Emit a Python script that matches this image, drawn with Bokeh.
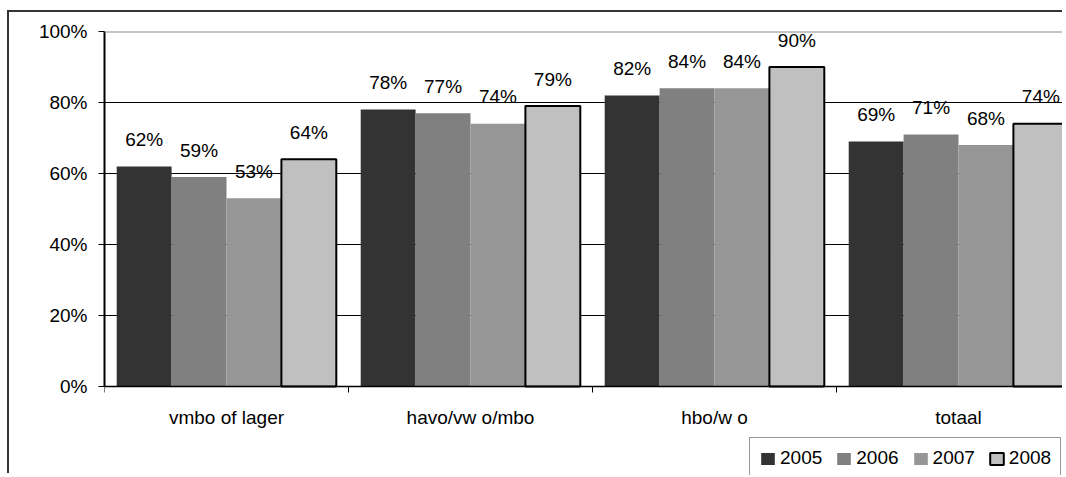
import math
from bokeh.plotting import figure
from bokeh.models import FixedTicker, PrintfTickFormatter, Span, Legend, LegendItem, ColumnDataSource
from bokeh.core.properties import value
from bokeh.embed import file_html
from bokeh.resources import INLINE

categories = ["vmbo of lager", "havo/vw o/mbo", "hbo/w o", "totaal"]
years = ["2005", "2006", "2007", "2008"]
v2005 = [62, 78, 82, 69]
v2006 = [59, 77, 84, 71]
v2007 = [53, 74, 84, 68]
v2008 = [64, 79, 90, 74]
y_ticks = [0, 20, 40, 60, 80, 100]

series = [v2005, v2006, v2007, v2008]
fills = ["#333333", "#808080", "#969696", "#c0c0c0"]
outlines = [None, None, None, "black"]
FONT = "Liberation Sans"
BAR_W = 0.225

CW, CH = 1055, 463          # canvas size
LEFT, TOP = 95, 19          # frame offsets inside canvas
PX_PER_CAT, PX_PER_PCT = 244, 3.55
x_end = -0.5 + (CW - LEFT) / PX_PER_CAT
y_start = 100 - (CH - TOP) / PX_PER_PCT

p = figure(width=CW, height=CH, output_backend="svg", toolbar_location=None,
           x_range=(-0.5, x_end), y_range=(y_start, 100), x_axis_location=None,
           min_border_left=LEFT, min_border_right=0, min_border_top=TOP, min_border_bottom=0)
p.styles = {"border-top": "2px solid #333333", "border-left": "2px solid #333333",
            "margin-left": "7px", "margin-top": "10px"}
p.outline_line_color = None
p.background_fill_color = "white"
p.border_fill_color = "white"

p.xgrid.visible = False
p.ygrid.ticker = FixedTicker(ticks=[20, 40, 60, 80])
p.ygrid.grid_line_color = "black"
p.ygrid.grid_line_width = 1
p.add_layout(Span(location=100, dimension="width", line_color="#8c8c8c", line_width=2))

renderers = []
for j, vals in enumerate(series):
    xs = [i + (j - 1.5) * BAR_W for i in range(len(categories))]
    src = ColumnDataSource(dict(x=xs, top=vals, lbl=[f"{v}%" for v in vals]))
    r = p.vbar(x="x", top="top", bottom=0, width=BAR_W, source=src, fill_color=fills[j],
               line_color=outlines[j], line_width=2 if outlines[j] else 0)
    renderers.append(r)
    p.text(x="x", y="top", text="lbl", source=src, y_offset=-27,
           text_align="center", text_baseline="middle",
           text_font=value(FONT), text_font_size="19px", text_color="black")

# x axis drawn by hand: line at 0, boundary ticks, category labels
p.add_layout(Span(location=0, dimension="width", line_color="black", line_width=1.5))
bounds = [i - 0.5 for i in range(len(categories) + 1)]
p.ray(x=bounds, y=[0] * len(bounds), length=6, length_units="screen",
      angle=-math.pi / 2, line_color="black", line_width=1)
cat_src = ColumnDataSource(dict(x=list(range(len(categories))), y=[0] * len(categories), t=categories))
p.text(x="x", y="y", text="t", source=cat_src, y_offset=31,
       text_align="center", text_baseline="middle",
       text_font=value(FONT), text_font_size="19px", text_color="black")

# y axis
p.yaxis.ticker = FixedTicker(ticks=y_ticks)
p.yaxis.bounds = (0, 100)
p.yaxis.formatter = PrintfTickFormatter(format="%d%%")
p.yaxis.minor_tick_line_color = None
p.yaxis.major_tick_out = 6
p.yaxis.major_tick_in = 0
p.yaxis.major_label_standoff = 11
p.yaxis.axis_line_width = 2
p.yaxis.axis_line_color = "black"
p.yaxis.major_tick_line_color = "black"
p.yaxis.major_label_text_font = FONT
p.yaxis.major_label_text_font_size = "19px"
p.yaxis.major_label_text_color = "black"

legend = Legend(items=[LegendItem(label=y, renderers=[r]) for y, r in zip(years, renderers)],
                location=(645, -4), orientation="horizontal",
                glyph_width=17, glyph_height=15, label_standoff=4, spacing=13, padding=9,
                label_text_font=FONT, label_text_font_size="19px", label_text_color="black",
                border_line_color="#333333", border_line_width=1, background_fill_color="white",
                background_fill_alpha=1)
p.add_layout(legend, "center")

open("out.html", "w").write(file_html(p, INLINE))
